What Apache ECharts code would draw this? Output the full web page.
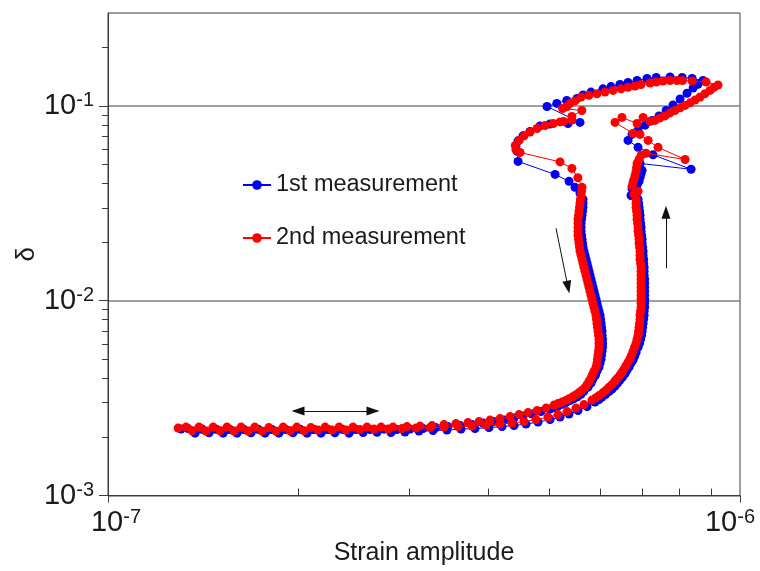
<!DOCTYPE html>
<html><head><meta charset="utf-8">
<script src="https://cdn.jsdelivr.net/npm/echarts@6/dist/echarts.min.js"></script>
<style>html,body{margin:0;padding:0;background:#fff}#c{width:760px;height:571px}</style>
</head><body><div id="c"></div>
<script>
const seriesNames = ['1st measurement', '2nd measurement'];
const seriesColors = ['#0000ee', '#ff0000'];
const xMajorTicks = [1e-7, 1e-6];
const xMinorTicks = [2e-7, 3e-7, 4e-7, 5e-7, 6e-7, 7e-7, 8e-7, 9e-7];
const yMajorTicks = [1e-3, 1e-2, 1e-1];
const yMinorTicks = [2e-3, 3e-3, 4e-3, 5e-3, 6e-3, 7e-3, 8e-3, 9e-3, 2e-2, 3e-2, 4e-2, 5e-2, 6e-2, 7e-2, 8e-2, 9e-2, 2e-1];
const xTitle = 'Strain amplitude';
const yTitle = 'δ';

// 1st measurement: [strain amplitude, delta]
const measurement1 = [
[1.305e-7,2.193e-3],[1.373e-7,2.09e-3],[1.445e-7,2.10e-3],[1.521e-7,2.09e-3],[1.600e-7,2.09e-3],[1.684e-7,2.10e-3],[1.772e-7,2.09e-3],[1.864e-7,2.09e-3],[1.962e-7,2.10e-3],[2.065e-7,2.09e-3],[2.173e-7,2.09e-3],[2.286e-7,2.10e-3],[2.407e-7,2.09e-3],[2.533e-7,2.105e-3],[2.665e-7,2.11e-3],[2.804e-7,2.105e-3],[2.950e-7,2.117e-3],[3.105e-7,2.142e-3],[3.268e-7,2.155e-3],[3.438e-7,2.167e-3],[3.619e-7,2.193e-3],[3.808e-7,2.206e-3],[4.007e-7,2.232e-3],[4.202e-7,2.259e-3],
[4.39e-7,2.286e-3],[4.586e-7,2.326e-3],[4.791e-7,2.382e-3],[5.005e-7,2.454e-3],[5.191e-7,2.526e-3],[5.364e-7,2.617e-3],[5.542e-7,2.728e-3],[5.727e-7,2.86e-3],
[5.896e-7,3.016e-3],[5.983e-7,3.11e-3],[6.049e-7,3.2e-3],[6.126e-7,3.296e-3],[6.205e-7,3.415e-3],[6.273e-7,3.516e-3],[6.342e-7,3.643e-3],[6.40e-7,3.775e-3],[6.458e-7,3.912e-3],[6.517e-7,4.05e-3],[6.577e-7,4.22e-3],[6.625e-7,4.40e-3],[6.674e-7,4.56e-3],[6.723e-7,4.78e-3],[6.772e-7,4.953e-3],[6.81e-7,5.19e-3],[6.848e-7,5.42e-3],
[6.898e-7,5.777e-3],[6.936e-7,6.056e-3],[6.961e-7,6.35e-3],[6.987e-7,6.655e-3],[7.0e-7,6.98e-3],[7.013e-7,7.31e-3],[7.025e-7,7.67e-3],[7.038e-7,8.04e-3],[7.051e-7,8.43e-3],[7.051e-7,8.83e-3],[7.064e-7,9.26e-3],[7.064e-7,9.71e-3],[7.064e-7,1.018e-2],[7.064e-7,1.067e-2],[7.064e-7,1.119e-2],[7.064e-7,1.173e-2],[7.064e-7,1.229e-2],[7.064e-7,1.289e-2],[7.051e-7,1.351e-2],[7.051e-7,1.417e-2],[7.051e-7,1.486e-2],[7.038e-7,1.557e-2],[7.038e-7,1.633e-2],[7.025e-7,1.711e-2],[7.025e-7,1.794e-2],[7.013e-7,1.882e-2],[7.0e-7,1.973e-2],[7.0e-7,2.067e-2],[6.987e-7,2.167e-2],[6.974e-7,2.272e-2],[6.974e-7,2.38e-2],[6.961e-7,2.50e-2],[6.948e-7,2.619e-2],[6.948e-7,2.745e-2],[6.936e-7,2.88e-2],[6.923e-7,3.018e-2],[6.911e-7,3.164e-2],[6.898e-7,3.317e-2],
[6.848e-7,3.58e-2],[6.723e-7,3.47e-2],[6.748e-7,3.758e-2],[6.873e-7,3.912e-2],[6.923e-7,4.10e-2],[6.948e-7,4.30e-2],[6.974e-7,4.48e-2],[7.0e-7,4.67e-2],[6.948e-7,5.07e-2],[8.368e-7,4.73e-2],[7.284e-7,5.61e-2],[6.898e-7,6.13e-2],[6.65e-7,6.655e-2],[6.748e-7,7.14e-2],[6.898e-7,7.53e-2],[7.076e-7,7.97e-2],[7.258e-7,8.426e-2],[7.445e-7,8.89e-2],[7.64e-7,9.48e-2],[7.834e-7,0.1012],[8.039e-7,0.1085],[8.245e-7,0.1162],[8.43e-7,0.1236],[8.58e-7,0.1291],[8.74e-7,0.1351],
[8.40e-7,0.1384],[8.1e-7,0.14],[7.75e-7,0.1408],[7.37e-7,0.14],[7.127e-7,0.1384],[6.873e-7,0.1351],[6.65e-7,0.1319],[6.458e-7,0.1288],[6.25e-7,0.1257],[6.07e-7,0.1224],[5.81e-7,0.1178],[5.644e-7,0.1139],[5.522e-7,0.1092],[5.32e-7,0.1067],[5.13e-7,0.103],[4.95e-7,0.0994],
[5.583e-7,0.0823],[5.344e-7,0.0813],[5.005e-7,0.0808],[4.826e-7,0.079],[4.653e-7,0.0739],[4.535e-7,0.0702],[4.455e-7,0.0662],[4.42e-7,0.062],[4.44e-7,0.0585],[4.455e-7,0.0519],[5.098e-7,0.0445],[5.364e-7,0.041],[5.482e-7,0.0382],[5.583e-7,0.0356],
[5.644e-7,3.317e-2],[5.644e-7,3.164e-2],[5.644e-7,3.018e-2],[5.634e-7,2.88e-2],[5.624e-7,2.745e-2],[5.614e-7,2.619e-2],[5.604e-7,2.50e-2],[5.604e-7,2.38e-2],[5.604e-7,2.272e-2],[5.614e-7,2.167e-2],[5.624e-7,2.067e-2],[5.634e-7,1.973e-2],[5.644e-7,1.882e-2],[5.664e-7,1.794e-2],[5.685e-7,1.711e-2],[5.706e-7,1.633e-2],[5.727e-7,1.557e-2],[5.748e-7,1.486e-2],[5.769e-7,1.417e-2],[5.79e-7,1.351e-2],[5.811e-7,1.289e-2],[5.832e-7,1.229e-2],[5.853e-7,1.173e-2],[5.875e-7,1.119e-2],[5.896e-7,1.067e-2],[5.918e-7,1.018e-2],[5.939e-7,9.71e-3],[5.961e-7,9.26e-3],[5.983e-7,8.83e-3],[6.005e-7,8.43e-3],[6.016e-7,8.04e-3],[6.027e-7,7.67e-3],[6.038e-7,7.31e-3],[6.049e-7,6.98e-3],[6.049e-7,6.655e-3],[6.06e-7,6.35e-3],[6.06e-7,6.056e-3],[6.06e-7,5.777e-3],[6.049e-7,5.51e-3],[6.038e-7,5.254e-3],[6.027e-7,5.01e-3],[6.005e-7,4.78e-3],[5.983e-7,4.56e-3],[5.939e-7,4.35e-3],[5.907e-7,4.15e-3],[5.853e-7,3.96e-3],[5.811e-7,3.775e-3],[5.748e-7,3.60e-3],[5.664e-7,3.435e-3],[5.604e-7,3.312e-3],[5.533e-7,3.21e-3],[5.462e-7,3.143e-3],[5.383e-7,3.07e-3],[5.304e-7,3.0e-3],[5.229e-7,2.94e-3],[5.153e-7,2.877e-3],[5.08e-7,2.827e-3],[5.005e-7,2.777e-3],
[4.843e-7,0.002696],[4.688e-7,0.002617],[4.535e-7,0.002556],[4.39e-7,0.002497],[4.232e-7,0.002439],[4.076e-7,0.002396],[3.92e-7,0.002354],[3.766e-7,0.002313],[3.606e-7,0.002286],[3.45e-7,0.002259],[3.30e-7,0.002232],[3.152e-7,0.002206],[3.005e-7,0.002193],[2.866e-7,0.00218],[2.733e-7,0.00219],[2.598e-7,0.00218],[2.469e-7,0.00218],[2.347e-7,0.00219],[2.231e-7,0.00218],[2.118e-7,0.00218],[2.013e-7,0.00219],[1.913e-7,0.00218],[1.818e-7,0.00218],[1.728e-7,0.00219],[1.642e-7,0.00218],[1.560e-7,0.00218],[1.483e-7,0.00219],[1.409e-7,0.002193],[1.338e-7,0.002206]
];

// 2nd measurement: [strain amplitude, delta]
const measurement2 = [
[1.291e-7,2.219e-3],[1.358e-7,2.15e-3],[1.429e-7,2.14e-3],[1.504e-7,2.15e-3],[1.583e-7,2.14e-3],[1.666e-7,2.14e-3],[1.753e-7,2.14e-3],[1.844e-7,2.14e-3],[1.941e-7,2.15e-3],[2.043e-7,2.15e-3],[2.149e-7,2.167e-3],[2.261e-7,2.167e-3],[2.380e-7,2.167e-3],[2.505e-7,2.18e-3],[2.636e-7,2.193e-3],[2.774e-7,2.193e-3],[2.918e-7,2.206e-3],[3.071e-7,2.219e-3],[3.232e-7,2.232e-3],[3.401e-7,2.245e-3],[3.579e-7,2.259e-3],[3.766e-7,2.272e-3],[3.964e-7,2.30e-3],[4.172e-7,2.326e-3],
[4.358e-7,2.354e-3],[4.553e-7,2.396e-3],[4.756e-7,2.454e-3],[4.969e-7,2.526e-3],[5.153e-7,2.602e-3],[5.325e-7,2.696e-3],[5.502e-7,2.81e-3],[5.664e-7,2.929e-3],
[5.832e-7,3.088e-3],[5.918e-7,3.18e-3],[5.983e-7,3.257e-3],[6.071e-7,3.375e-3],[6.137e-7,3.475e-3],[6.205e-7,3.60e-3],[6.273e-7,3.709e-3],[6.342e-7,3.87e-3],[6.388e-7,3.982e-3],[6.458e-7,4.15e-3],[6.505e-7,4.299e-3],[6.553e-7,4.455e-3],[6.601e-7,4.64e-3],[6.65e-7,4.84e-3],[6.698e-7,5.04e-3],[6.736e-7,5.254e-3],[6.772e-7,5.51e-3],
[6.81e-7,5.777e-3],[6.848e-7,6.056e-3],[6.873e-7,6.35e-3],[6.898e-7,6.655e-3],[6.911e-7,6.98e-3],[6.923e-7,7.31e-3],[6.936e-7,7.67e-3],[6.948e-7,8.04e-3],[6.948e-7,8.43e-3],[6.961e-7,8.83e-3],[6.974e-7,9.26e-3],[6.974e-7,9.71e-3],[6.974e-7,1.018e-2],[6.974e-7,1.067e-2],[6.974e-7,1.119e-2],[6.974e-7,1.173e-2],[6.974e-7,1.229e-2],[6.974e-7,1.289e-2],[6.974e-7,1.351e-2],[6.974e-7,1.417e-2],[6.974e-7,1.486e-2],[6.961e-7,1.557e-2],[6.948e-7,1.633e-2],[6.948e-7,1.711e-2],[6.948e-7,1.794e-2],[6.936e-7,1.882e-2],[6.923e-7,1.973e-2],[6.923e-7,2.067e-2],[6.911e-7,2.167e-2],[6.898e-7,2.272e-2],[6.898e-7,2.38e-2],[6.885e-7,2.50e-2],[6.873e-7,2.619e-2],[6.873e-7,2.745e-2],[6.861e-7,2.88e-2],[6.848e-7,3.018e-2],[6.848e-7,3.164e-2],[6.848e-7,3.317e-2],
[6.798e-7,3.517e-2],[6.898e-7,3.643e-2],[6.748e-7,3.866e-2],[6.772e-7,4.05e-2],[6.798e-7,4.199e-2],[6.823e-7,4.402e-2],[6.848e-7,4.615e-2],[6.861e-7,4.838e-2],[6.873e-7,5.07e-2],[6.923e-7,5.315e-2],[6.974e-7,5.575e-2],[7.102e-7,5.71e-2],[8.187e-7,5.31e-2],[7.419e-7,6.13e-2],[7.154e-7,6.655e-2],[6.948e-7,7.14e-2],[6.772e-7,7.23e-2],[6.342e-7,8.23e-2],[6.505e-7,8.73e-2],[6.873e-7,8.13e-2],[7.025e-7,8.73e-2],
[7.205e-7,0.0833],[7.338e-7,0.08426],[7.472e-7,0.0868],[7.61e-7,0.0889],[7.75e-7,0.0921],[7.89e-7,0.0948],[8.039e-7,0.0978],[8.187e-7,0.1006],[8.337e-7,0.1037],[8.49e-7,0.1073],[8.646e-7,0.1112],[8.804e-7,0.1156],[8.965e-7,0.1201],[9.097e-7,0.1245],[9.23e-7,0.1281],
[8.84e-7,0.1327],[8.40e-7,0.1343],[8.11e-7,0.135],[7.95e-7,0.1351],[7.75e-7,0.1351],[7.554e-7,0.1343],[7.37e-7,0.1327],[7.205e-7,0.1312],[6.973e-7,0.1288],[6.823e-7,0.1265],[6.65e-7,0.1247],[6.482e-7,0.1224],[6.296e-7,0.1201],[6.115e-7,0.1178],[5.939e-7,0.1155],[5.769e-7,0.1133],[5.604e-7,0.111],[5.482e-7,0.1061],[5.383e-7,0.103],[5.32e-7,0.099],[5.24e-7,0.097],[5.62e-7,0.0948],[5.42e-7,0.0883],[5.26e-7,0.0833],[5.42e-7,0.0847],[5.19e-7,0.0828],[5.065e-7,0.0813],[4.916e-7,0.0794],[4.773e-7,0.0766],[4.653e-7,0.0735],[4.553e-7,0.0702],[4.471e-7,0.06655],[4.41e-7,0.0627],[4.42e-7,0.0595],[4.487e-7,0.0577],
[5.191e-7,0.0516],[5.42e-7,0.0478],[5.54e-7,0.0428],
[5.624e-7,3.82e-2],[5.614e-7,3.643e-2],[5.604e-7,3.475e-2],[5.593e-7,3.317e-2],[5.583e-7,3.164e-2],[5.573e-7,3.018e-2],[5.563e-7,2.88e-2],[5.553e-7,2.745e-2],[5.543e-7,2.619e-2],[5.543e-7,2.50e-2],[5.543e-7,2.38e-2],[5.543e-7,2.272e-2],[5.543e-7,2.167e-2],[5.553e-7,2.067e-2],[5.563e-7,1.973e-2],[5.573e-7,1.882e-2],[5.583e-7,1.794e-2],[5.604e-7,1.711e-2],[5.624e-7,1.633e-2],[5.644e-7,1.557e-2],[5.664e-7,1.486e-2],[5.685e-7,1.417e-2],[5.706e-7,1.351e-2],[5.727e-7,1.289e-2],[5.748e-7,1.229e-2],[5.769e-7,1.173e-2],[5.79e-7,1.119e-2],[5.811e-7,1.067e-2],[5.832e-7,1.018e-2],[5.853e-7,9.71e-3],[5.875e-7,9.26e-3],[5.896e-7,8.83e-3],[5.918e-7,8.43e-3],[5.928e-7,8.04e-3],[5.939e-7,7.67e-3],[5.95e-7,7.31e-3],[5.961e-7,6.98e-3],[5.972e-7,6.655e-3],[5.983e-7,6.35e-3],[5.983e-7,6.056e-3],[5.983e-7,5.777e-3],[5.972e-7,5.51e-3],[5.961e-7,5.254e-3],[5.95e-7,5.01e-3],[5.939e-7,4.78e-3],[5.918e-7,4.56e-3],[5.875e-7,4.35e-3],[5.843e-7,4.174e-3],[5.811e-7,4.01e-3],[5.769e-7,3.846e-3],[5.727e-7,3.709e-3],[5.685e-7,3.58e-3],[5.624e-7,3.475e-3],[5.563e-7,3.375e-3],[5.502e-7,3.295e-3],[5.432e-7,3.21e-3],[5.364e-7,3.143e-3],[5.298e-7,3.07e-3],[5.229e-7,3.016e-3],[5.153e-7,2.963e-3],[5.08e-7,2.911e-3],
[4.933e-7,0.00281],[4.773e-7,0.002728],[4.62e-7,0.002664],[4.471e-7,0.002602],[4.326e-7,0.002541],[4.172e-7,0.002483],[4.022e-7,0.002439],[3.864e-7,0.002396],[3.712e-7,0.002368],[3.553e-7,0.00234],[3.401e-7,0.002313],[3.256e-7,0.002285],[3.117e-7,0.002272],[2.972e-7,0.002259],[2.825e-7,0.002245],[2.704e-7,0.002245],[2.569e-7,0.002245],[2.442e-7,0.002245],[2.321e-7,0.002245],[2.206e-7,0.002245],[2.094e-7,0.002232],[1.99e-7,0.002245],[1.893e-7,0.002245],[1.797e-7,0.002232],[1.707e-7,0.002245],[1.624e-7,0.002245],[1.543e-7,0.002245],[1.467e-7,0.002245],[1.393e-7,0.002245],[1.329e-7,0.002245]
];

// annotation arrows, in data units: [from, to, double-headed]
const arrowLines = [
  [[1.998e-7, 2.713e-3], [2.626e-7, 2.713e-3], true],
  [[5.116e-7, 2.354e-2], [5.344e-7, 1.173e-2], false],
  [[7.636e-7, 1.468e-2], [7.636e-7, 2.845e-2], false]
];

const FONT = "'Liberation Sans', Arial, sans-serif";
const TXT = '#1a1a1a';
const AX = '#3a3a3a';
const baseB = { fontSize: 29, fontFamily: FONT, color: TXT, lineHeight: 31 };
const baseS = { fontSize: 20, fontFamily: FONT, color: TXT, verticalAlign: 'top', lineHeight: 21 };
const rich = {
  b: baseB,
  s: baseS,
  bL: Object.assign({}, baseB, { padding: [0, 0, 0, 16] }),
  sR: Object.assign({}, baseS, { padding: [0, 20, 0, 0] })
};
function powLabel(v) {
  const e = Math.round(Math.log10(v));
  return '{b|10}{s|' + e + '}';
}
function xPowLabel(v) {
  const e = Math.round(Math.log10(v));
  if (v <= xMajorTicks[0] * 1.0001) return '{bL|10}{s|' + e + '}';
  return '{b|10}{sR|' + e + '}';
}

const chart = echarts.init(document.getElementById('c'), null, { renderer: 'canvas' });
chart.setOption({
  animation: false,
  backgroundColor: '#fff',
  grid: { left: 108, right: 20, top: 13, bottom: 75.5, show: true, borderColor: AX, borderWidth: 1,
          containLabel: false, outerBoundsMode: 'none' },
  legend: {
    orient: 'vertical', left: 242, top: 172, padding: 0, itemWidth: 28, itemHeight: 12, itemGap: 27,
    data: seriesNames,
    textStyle: { fontSize: 23.5, fontFamily: FONT, color: TXT, lineHeight: 26 }
  },
  xAxis: [
    {
      type: 'log', logBase: 10, min: 1e-7, max: 1e-6, position: 'bottom',
      axisLine: { show: true, onZero: false, lineStyle: { color: AX, width: 1 } },
      axisTick: { show: true, inside: false, length: 7, customValues: xMajorTicks, lineStyle: { color: AX } },
      axisLabel: { customValues: xMajorTicks, formatter: xPowLabel, rich: rich, margin: 12, hideOverlap: false },
      splitLine: { show: false },
      name: xTitle, nameLocation: 'middle', nameGap: 45, nameMoveOverlap: false,
      nameTextStyle: { fontSize: 25, fontFamily: FONT, color: TXT }
    },
    {
      type: 'log', logBase: 10, min: 1e-7, max: 1e-6, position: 'bottom',
      axisLine: { show: false, onZero: false },
      axisTick: { show: true, inside: true, length: 7, customValues: xMinorTicks, lineStyle: { color: AX } },
      axisLabel: { show: false },
      splitLine: { show: false }
    }
  ],
  yAxis: [
    {
      type: 'log', logBase: 10, min: 1e-3, max: 0.3, position: 'left',
      axisLine: { show: true, onZero: false, lineStyle: { color: AX, width: 1 } },
      axisTick: { show: true, inside: false, length: 9, customValues: yMajorTicks, lineStyle: { color: AX } },
      axisLabel: { customValues: yMajorTicks, formatter: powLabel, rich: rich, margin: 14 },
      splitLine: { show: true, lineStyle: { color: '#808080', width: 1.5 } },
      name: yTitle, nameLocation: 'middle', nameGap: 68, nameMoveOverlap: false,
      nameTextStyle: { fontSize: 26, fontFamily: FONT, color: TXT }
    },
    {
      type: 'log', logBase: 10, min: 1e-3, max: 0.3, position: 'left',
      axisLine: { show: false, onZero: false },
      axisTick: { show: true, inside: false, length: 6, customValues: yMinorTicks, lineStyle: { color: AX } },
      axisLabel: { show: false },
      splitLine: { show: false }
    }
  ],
  series: [
    {
      name: seriesNames[0], type: 'line', xAxisIndex: 0, yAxisIndex: 0,
      data: measurement1, symbol: 'circle', symbolSize: 9, showSymbol: true,
      lineStyle: { width: 1, color: seriesColors[0] }, itemStyle: { color: seriesColors[0] }, z: 2
    },
    {
      name: seriesNames[1], type: 'line', xAxisIndex: 0, yAxisIndex: 0,
      data: measurement2, symbol: 'circle', symbolSize: 9, showSymbol: true,
      lineStyle: { width: 1, color: seriesColors[1] }, itemStyle: { color: seriesColors[1] }, z: 3,
      markLine: {
        silent: true, animation: false, label: { show: false },
        lineStyle: { color: '#111', width: 1, type: 'solid' },
        symbolSize: [9, 13],
        data: arrowLines.map(a => [
          { coord: a[0], symbol: a[2] ? 'triangle' : 'none' },
          { coord: a[1], symbol: 'triangle' }
        ])
      }
    }
  ]
});
</script>
</body></html>
